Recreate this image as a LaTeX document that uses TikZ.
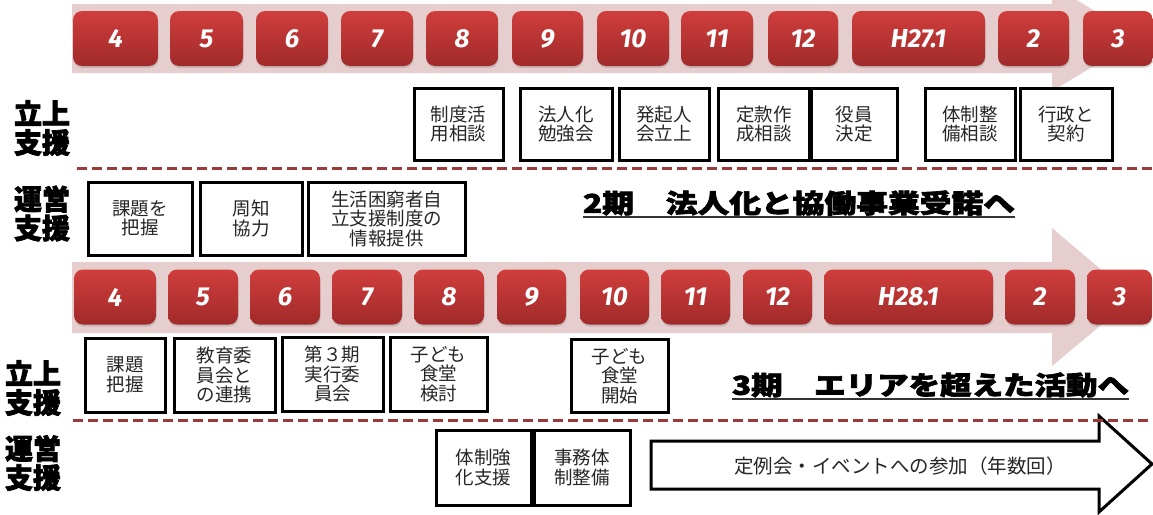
\documentclass[tikz,border=0pt]{standalone}
\usepackage{fontspec}
\usepackage{graphicx}
\usetikzlibrary{shadows}
\newfontfamily\jp{Noto Sans CJK JP}
\newfontfamily\jpheavy{Noto Sans CJK JP}[FakeBold=2.5]
\newfontfamily\numf{Fira Sans}
\definecolor{bandc}{RGB}{230,206,206}
\definecolor{rtop}{RGB}{208,62,60}
\definecolor{rbot}{RGB}{160,42,42}
\definecolor{dashc}{RGB}{155,58,58}
\begin{document}
\begin{tikzpicture}[x=1pt,y=-1pt,
  rbox/.style={rounded corners=9pt, top color=rtop, bottom color=rbot, text=white,
    font=\numf\bfseries\itshape\fontsize{26}{26}\selectfont, minimum height=55pt, inner sep=0pt,
    drop shadow={shadow xshift=0.5pt, shadow yshift=-2pt, opacity=0.3}},
  wbox/.style={draw=black, line width=3pt, fill=white, align=center, inner sep=0pt,
    font=\jp\fontsize{18.5}{19.5}\selectfont, text=black!85},
  lab/.style={align=center, inner sep=0pt, font=\jpheavy\bfseries\fontsize{28}{29}\selectfont},
  sep/.style={draw=dashc, line width=3pt, dash pattern=on 10pt off 5pt},
  band/.style={fill=bandc},
  ttl/.style={inner sep=0pt, font=\jpheavy\bfseries\fontsize{26}{26}\selectfont},
  uline/.style={draw=black!80, line width=2pt},
  bigarrow/.style={draw=black, line width=3pt, fill=white, line join=miter},
  atext/.style={inner sep=0pt, font=\jp\fontsize{19.5}{20}\selectfont, text=black!85}
]
\useasboundingbox (0,0) rectangle (1153,514);
\clip (0,0) rectangle (1153,514);

% ---------- top timeline band ----------
\path[band] (72,4) -- (1052,4) -- (1052,-15) -- (1140,38.5) -- (1052,91) -- (1052,73) -- (72,73) -- cycle;
\node[rbox, minimum width=85pt] (t4)  at (115.5,38.5) {4};
\node[rbox, minimum width=73pt] (t5)  at (206.5,38.5) {5};
\node[rbox, minimum width=72pt] (t6)  at (292,38.5) {6};
\node[rbox, minimum width=72pt] (t7)  at (377,38.5) {7};
\node[rbox, minimum width=72pt] (t8)  at (462,38.5) {8};
\node[rbox, minimum width=71pt] (t9)  at (547.5,38.5) {9};
\node[rbox, minimum width=72pt] (t10) at (633,38.5) {10};
\node[rbox, minimum width=72pt] (t11) at (717,38.5) {11};
\node[rbox, minimum width=70pt] (t12) at (803,38.5) {12};
\node[rbox, minimum width=133pt] (tH) at (918.5,38.5) {H27.1};
\node[rbox, minimum width=71pt] (t2)  at (1033.5,38.5) {2};
\node[rbox, minimum width=70pt] (t3)  at (1118,38.5) {3};

% ---------- period 2 ----------
\node[lab] (l1) at (42,128) {立上\\支援};
\node[wbox, minimum width=89pt, minimum height=72pt] (b1) at (458.5,124) {制度活\\用相談};
\node[wbox, minimum width=92pt, minimum height=72pt] (b2) at (566,124) {法人化\\勉強会};
\node[wbox, minimum width=90pt, minimum height=72pt] (b3) at (664,124) {発起人\\会立上};
\node[wbox, minimum width=91pt, minimum height=72pt] (b4) at (764,124) {定款作\\成相談};
\node[wbox, minimum width=86pt, minimum height=72pt] (b5) at (854,124) {役員\\決定};
\node[wbox, minimum width=90pt, minimum height=72pt] (b6) at (970,124) {体制整\\備相談};
\node[wbox, minimum width=92pt, minimum height=72pt] (b7) at (1066,124) {行政と\\契約};

\coordinate (s1a) at (77,168);
\coordinate (s1b) at (1153,168);
\draw[sep] (s1a) -- (s1b);

\node[lab] (l2) at (42,213.5) {運営\\支援};
\node[wbox, minimum width=104pt, minimum height=73pt] (c1) at (140,218.5) {課題を\\把握};
\node[wbox, minimum width=102pt, minimum height=73pt] (c2) at (251,218.5) {周知\\協力};
\node[wbox, minimum width=157pt, minimum height=73pt] (c3) at (386.5,218.5) {生活困窮者自\\立支援制度の\\情報提供};

\node[ttl] (ttl2) at (799,203) {\resizebox{432pt}{\height}{2期　法人化と協働事業受諾へ}};
\draw[uline] ([yshift=-1pt]ttl2.south west) -- ([yshift=-1pt]ttl2.south east);

% ---------- middle timeline band ----------
\path[band] (72,262) -- (1052,262) -- (1052,228) -- (1134,297.5) -- (1052,366) -- (1052,333) -- (72,333) -- cycle;
\node[rbox, minimum width=82pt] (m4)  at (115,297) {4};
\node[rbox, minimum width=70pt] (m5)  at (203,297) {5};
\node[rbox, minimum width=70pt] (m6)  at (285,297) {6};
\node[rbox, minimum width=70pt] (m7)  at (367,297) {7};
\node[rbox, minimum width=70pt] (m8)  at (449,297) {8};
\node[rbox, minimum width=69pt] (m9)  at (531.5,297) {9};
\node[rbox, minimum width=69pt] (m10) at (614.5,297) {10};
\node[rbox, minimum width=69pt] (m11) at (695.5,297) {11};
\node[rbox, minimum width=69pt] (m12) at (777.5,297) {12};
\node[rbox, minimum width=169pt] (mH) at (908.5,297) {H28.1};
\node[rbox, minimum width=70pt] (m2)  at (1040,297) {2};
\node[rbox, minimum width=65pt] (m3)  at (1119.5,297) {3};

% ---------- period 3 ----------
\node[lab] (l3) at (33,388) {立上\\支援};
\node[wbox, minimum width=80pt, minimum height=74pt] (d1) at (125,375) {課題\\把握};
\node[wbox, minimum width=101pt, minimum height=74pt] (d2) at (224.5,375) {教育委\\員会と\\の連携};
\node[wbox, minimum width=101pt, minimum height=74pt] (d3) at (332.5,374) {第３期\\実行委\\員会};
\node[wbox, minimum width=97pt, minimum height=74pt] (d4) at (438.5,374) {子ども\\食堂\\検討};
\node[wbox, minimum width=97pt, minimum height=73pt] (d5) at (619.5,376) {子ども\\食堂\\開始};

\node[ttl] (ttl3) at (930.5,385) {\resizebox{397pt}{\height}{3期　エリアを超えた活動へ}};
\draw[uline] ([yshift=-1pt]ttl3.south west) -- ([yshift=-1pt]ttl3.south east);

\draw[bigarrow] (651,441) -- (1099,441) -- (1099,416) -- (1152,464) -- (1099,512) -- (1099,489) -- (651,489) -- cycle;
\node[atext] (ev) at (900,466) {定例会・イベントへの参加（年数回）};

\coordinate (s2a) at (73,420);
\coordinate (s2b) at (1153,420);
\draw[sep] (s2a) -- (s2b);

\node[lab] (l4) at (33,463) {運営\\支援};
\node[wbox, minimum width=95pt, minimum height=75pt] (e1) at (483.5,467.5) {体制強\\化支援};
\node[wbox, minimum width=96pt, minimum height=75pt] (e2) at (582,467.5) {事務体\\制整備};
\end{tikzpicture}
\end{document}
